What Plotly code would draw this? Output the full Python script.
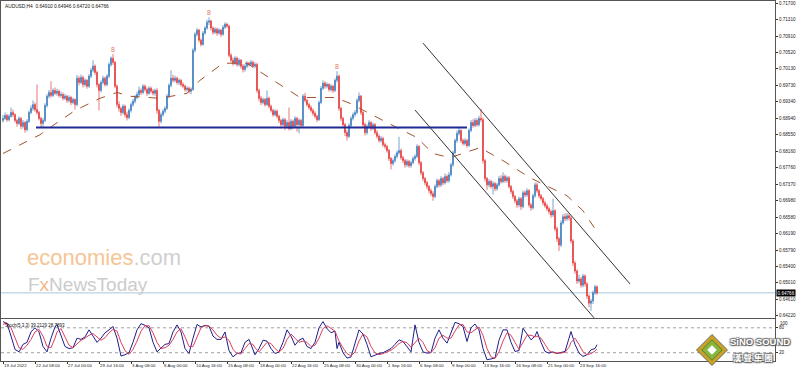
import plotly.graph_objects as go

# ---------------- data ----------------
open_ = [0.6889,0.6894,0.6901,0.6891,0.6899,0.6908,0.6903,0.6889,0.6882,0.6894,
0.6875,0.6884,0.6867,0.6887,0.6908,0.6918,0.6927,0.6915,0.6908,0.6894,
0.6882,0.6889,0.6925,0.6947,0.6956,0.6949,0.6961,0.6954,0.6959,0.6949,
0.6951,0.6942,0.6947,0.6937,0.6944,0.6932,0.6939,0.6927,0.6990,0.6980,
0.6992,0.6975,0.6985,0.6971,0.6995,0.7009,0.7019,0.7004,0.6975,0.6961,
0.6980,0.6990,0.6975,0.6995,0.7023,0.7038,0.7028,0.6971,0.6927,0.6918,
0.6908,0.6923,0.6903,0.6896,0.6913,0.6927,0.6935,0.6944,0.6951,0.6961,
0.6956,0.6971,0.6963,0.6954,0.6966,0.6959,0.6954,0.6961,0.6913,0.6887,
0.6903,0.6911,0.6918,0.6947,0.6973,0.6990,0.6985,0.6990,0.6980,0.6985,
0.6975,0.6971,0.6963,0.6966,0.6959,0.6963,0.7057,0.7095,0.7105,0.7081,
0.7071,0.7098,0.7110,0.7124,0.7127,0.7110,0.7100,0.7107,0.7098,0.7105,
0.7095,0.7112,0.7119,0.7115,0.7045,0.7033,0.7026,0.7038,0.7023,0.7033,
0.7019,0.7011,0.7019,0.7026,0.7023,0.7028,0.7019,0.7023,0.6961,0.6942,
0.6932,0.6939,0.6927,0.6942,0.6923,0.6913,0.6903,0.6911,0.6899,0.6889,
0.6879,0.6891,0.6875,0.6884,0.6870,0.6887,0.6875,0.6894,0.6879,0.6889,
0.6877,0.6947,0.6937,0.6927,0.6920,0.6913,0.6906,0.6899,0.6891,0.6932,
0.6966,0.6978,0.6971,0.6975,0.6963,0.6971,0.6961,0.6985,0.6995,0.6918,
0.6894,0.6879,0.6860,0.6851,0.6877,0.6894,0.6903,0.6908,0.6937,0.6947,
0.6908,0.6879,0.6860,0.6875,0.6884,0.6870,0.6879,0.6860,0.6851,0.6841,
0.6846,0.6831,0.6827,0.6817,0.6798,0.6786,0.6793,0.6803,0.6812,0.6817,
0.6800,0.6793,0.6783,0.6791,0.6781,0.6788,0.6798,0.6803,0.6827,0.6788,
0.6764,0.6750,0.6740,0.6731,0.6721,0.6714,0.6707,0.6731,0.6745,0.6735,
0.6750,0.6740,0.6755,0.6745,0.6759,0.6783,0.6812,0.6841,0.6858,0.6865,
0.6841,0.6834,0.6841,0.6829,0.6865,0.6884,0.6877,0.6889,0.6879,0.6894,
0.6891,0.6793,0.6750,0.6735,0.6743,0.6731,0.6738,0.6726,0.6735,0.6750,
0.6743,0.6755,0.6745,0.6752,0.6731,0.6719,0.6707,0.6697,0.6687,0.6702,
0.6683,0.6716,0.6711,0.6721,0.6687,0.6680,0.6709,0.6735,0.6721,0.6709,
0.6702,0.6692,0.6685,0.6678,0.6671,0.6663,0.6673,0.6630,0.6606,0.6591,
0.6644,0.6659,0.6654,0.6661,0.6656,0.6601,0.6548,0.6529,0.6505,0.6510,
0.6495,0.6517,0.6498,0.6469,0.6452,0.6457,0.6477,0.64910]

close_ = [0.6894,0.6901,0.6891,0.6899,0.6908,0.6903,0.6889,0.6882,0.6894,0.6875,
0.6884,0.6867,0.6887,0.6908,0.6918,0.6927,0.6915,0.6908,0.6894,0.6882,
0.6889,0.6925,0.6947,0.6956,0.6949,0.6961,0.6954,0.6959,0.6949,0.6951,
0.6942,0.6947,0.6937,0.6944,0.6932,0.6939,0.6927,0.6990,0.6980,0.6992,
0.6975,0.6985,0.6971,0.6995,0.7009,0.7019,0.7004,0.6975,0.6961,0.6980,
0.6990,0.6975,0.6995,0.7023,0.7038,0.7028,0.6971,0.6927,0.6918,0.6908,
0.6923,0.6903,0.6896,0.6913,0.6927,0.6935,0.6944,0.6951,0.6961,0.6956,
0.6971,0.6963,0.6954,0.6966,0.6959,0.6954,0.6961,0.6913,0.6887,0.6903,
0.6911,0.6918,0.6947,0.6973,0.6990,0.6985,0.6990,0.6980,0.6985,0.6975,
0.6971,0.6963,0.6966,0.6959,0.6963,0.7057,0.7095,0.7105,0.7081,0.7071,
0.7098,0.7110,0.7124,0.7127,0.7110,0.7100,0.7107,0.7098,0.7105,0.7095,
0.7112,0.7119,0.7115,0.7045,0.7033,0.7026,0.7038,0.7023,0.7033,0.7019,
0.7011,0.7019,0.7026,0.7023,0.7028,0.7019,0.7023,0.6961,0.6942,0.6932,
0.6939,0.6927,0.6942,0.6923,0.6913,0.6903,0.6911,0.6899,0.6889,0.6879,
0.6891,0.6875,0.6884,0.6870,0.6887,0.6875,0.6894,0.6879,0.6889,0.6877,
0.6947,0.6937,0.6927,0.6920,0.6913,0.6906,0.6899,0.6891,0.6932,0.6966,
0.6978,0.6971,0.6975,0.6963,0.6971,0.6961,0.6985,0.6995,0.6918,0.6894,
0.6879,0.6860,0.6851,0.6877,0.6894,0.6903,0.6908,0.6937,0.6947,0.6908,
0.6879,0.6860,0.6875,0.6884,0.6870,0.6879,0.6860,0.6851,0.6841,0.6846,
0.6831,0.6827,0.6817,0.6798,0.6786,0.6793,0.6803,0.6812,0.6817,0.6800,
0.6793,0.6783,0.6791,0.6781,0.6788,0.6798,0.6803,0.6827,0.6788,0.6764,
0.6750,0.6740,0.6731,0.6721,0.6714,0.6707,0.6731,0.6745,0.6735,0.6750,
0.6740,0.6755,0.6745,0.6759,0.6783,0.6812,0.6841,0.6858,0.6865,0.6841,
0.6834,0.6841,0.6829,0.6865,0.6884,0.6877,0.6889,0.6879,0.6894,0.6891,
0.6793,0.6750,0.6735,0.6743,0.6731,0.6738,0.6726,0.6735,0.6750,0.6743,
0.6755,0.6745,0.6752,0.6731,0.6719,0.6707,0.6697,0.6687,0.6702,0.6683,
0.6716,0.6711,0.6721,0.6687,0.6680,0.6709,0.6735,0.6721,0.6709,0.6702,
0.6692,0.6685,0.6678,0.6671,0.6663,0.6673,0.6630,0.6606,0.6591,0.6644,
0.6659,0.6654,0.6661,0.6656,0.6601,0.6548,0.6529,0.6505,0.6510,0.6495,
0.6517,0.6498,0.6469,0.6452,0.6457,0.6477,0.6491,0.64766]

high_ = [0.6902,0.6908,0.6905,0.6904,0.6920,0.6915,0.6906,0.6893,0.6899,0.6897,
0.6890,0.6888,0.6892,0.6913,0.6925,0.6937,0.6932,0.6975,0.6912,0.6898,
0.6895,0.6930,0.6952,0.6962,0.6983,0.6966,0.6968,0.6965,0.6963,0.6958,
0.6956,0.6953,0.6950,0.6949,0.6948,0.6944,0.6942,0.6998,0.6995,0.6999,
0.6996,0.6990,0.6988,0.7000,0.7015,0.7033,0.7023,0.7008,0.6978,0.6985,
0.6996,0.6994,0.7000,0.7028,0.7042,0.7048,0.7032,0.6975,0.6935,0.6922,
0.6928,0.6927,0.6910,0.6918,0.6932,0.6940,0.6950,0.6958,0.6970,0.6966,
0.6976,0.6975,0.6968,0.6971,0.6970,0.6964,0.6965,0.6966,0.6917,0.6908,
0.6916,0.6923,0.6952,0.6978,0.7009,0.6998,0.6996,0.6994,0.6990,0.6988,
0.6980,0.6975,0.6971,0.6970,0.6968,0.7062,0.7100,0.7110,0.7108,0.7085,
0.7103,0.7115,0.7130,0.7136,0.7130,0.7114,0.7112,0.7111,0.7110,0.7108,
0.7117,0.7124,0.7123,0.7118,0.7050,0.7040,0.7043,0.7042,0.7038,0.7036,
0.7024,0.7024,0.7031,0.7030,0.7034,0.7032,0.7028,0.7027,0.6965,0.6948,
0.6944,0.6943,0.6961,0.6946,0.6927,0.6917,0.6916,0.6915,0.6903,0.6893,
0.6896,0.6895,0.6890,0.6920,0.6892,0.6891,0.6899,0.6898,0.6894,0.6893,
0.6952,0.6955,0.6941,0.6932,0.6925,0.6918,0.6911,0.6903,0.6937,0.6971,
0.6985,0.6983,0.6980,0.6978,0.6976,0.6974,0.6990,0.7007,0.6999,0.6922,
0.6898,0.6883,0.6866,0.6882,0.6899,0.6908,0.6914,0.6942,0.6956,0.6950,
0.6912,0.6884,0.6880,0.6890,0.6888,0.6884,0.6883,0.6866,0.6856,0.6852,
0.6850,0.6836,0.6831,0.6821,0.6802,0.6798,0.6808,0.6817,0.6850,0.6822,
0.6805,0.6797,0.6796,0.6795,0.6793,0.6803,0.6808,0.6832,0.6830,0.6792,
0.6768,0.6754,0.6745,0.6735,0.6726,0.6720,0.6736,0.6750,0.6749,0.6756,
0.6754,0.6762,0.6760,0.6766,0.6788,0.6817,0.6846,0.6865,0.6874,0.6868,
0.6846,0.6847,0.6845,0.6870,0.6890,0.6892,0.6895,0.6894,0.6900,0.6917,
0.6896,0.6797,0.6754,0.6749,0.6747,0.6744,0.6742,0.6740,0.6756,0.6758,
0.6765,0.6760,0.6757,0.6756,0.6735,0.6723,0.6711,0.6701,0.6707,0.6706,
0.6721,0.6722,0.6727,0.6725,0.6692,0.6714,0.6741,0.6740,0.6725,0.6713,
0.6706,0.6697,0.6690,0.6683,0.6676,0.6702,0.6677,0.6635,0.6611,0.6650,
0.6665,0.6667,0.6668,0.6666,0.6660,0.6605,0.6553,0.6533,0.6520,0.6515,
0.6522,0.6521,0.6502,0.6473,0.6462,0.6482,0.6496,0.64946]

low_ = [0.6884,0.6890,0.6886,0.6887,0.6896,0.6897,0.6884,0.6874,0.6878,0.6868,
0.6870,0.6860,0.6863,0.6883,0.6904,0.6912,0.6910,0.6903,0.6889,0.6872,
0.6874,0.6885,0.6920,0.6942,0.6944,0.6945,0.6950,0.6948,0.6944,0.6943,
0.6937,0.6938,0.6931,0.6932,0.6926,0.6928,0.6915,0.6923,0.6973,0.6976,
0.6968,0.6970,0.6965,0.6967,0.6990,0.7004,0.6998,0.6968,0.6913,0.6956,
0.6975,0.6970,0.6971,0.6990,0.7018,0.7022,0.6966,0.6920,0.6910,0.6900,
0.6903,0.6896,0.6889,0.6892,0.6908,0.6922,0.6930,0.6940,0.6946,0.6950,
0.6952,0.6958,0.6948,0.6950,0.6954,0.6949,0.6948,0.6905,0.6872,0.6882,
0.6898,0.6906,0.6914,0.6942,0.6968,0.6980,0.6980,0.6975,0.6974,0.6970,
0.6966,0.6958,0.6958,0.6954,0.6952,0.6960,0.7052,0.7090,0.7076,0.7066,
0.7068,0.7094,0.7106,0.7117,0.7104,0.7094,0.7096,0.7092,0.7094,0.7089,
0.7092,0.7108,0.7110,0.7040,0.7028,0.7020,0.7022,0.7018,0.7018,0.7013,
0.7004,0.7006,0.7014,0.7018,0.7019,0.7014,0.7014,0.6955,0.6935,0.6926,
0.6928,0.6922,0.6924,0.6918,0.6908,0.6898,0.6899,0.6894,0.6883,0.6870,
0.6875,0.6866,0.6870,0.6865,0.6866,0.6868,0.6871,0.6862,0.6858,0.6872,
0.6873,0.6932,0.6922,0.6915,0.6908,0.6900,0.6894,0.6885,0.6888,0.6928,
0.6962,0.6965,0.6966,0.6958,0.6958,0.6955,0.6957,0.6980,0.6912,0.6888,
0.6872,0.6852,0.6841,0.6847,0.6872,0.6889,0.6898,0.6904,0.6932,0.6902,
0.6873,0.6853,0.6855,0.6870,0.6864,0.6866,0.6855,0.6846,0.6836,0.6836,
0.6826,0.6821,0.6812,0.6792,0.6772,0.6781,0.6788,0.6798,0.6807,0.6795,
0.6787,0.6776,0.6778,0.6776,0.6776,0.6784,0.6793,0.6799,0.6782,0.6758,
0.6744,0.6734,0.6725,0.6715,0.6708,0.6697,0.6703,0.6727,0.6729,0.6730,
0.6734,0.6736,0.6740,0.6740,0.6755,0.6778,0.6808,0.6836,0.6853,0.6835,
0.6829,0.6829,0.6824,0.6826,0.6861,0.6872,0.6873,0.6874,0.6875,0.6885,
0.6786,0.6743,0.6723,0.6729,0.6726,0.6712,0.6720,0.6721,0.6731,0.6738,
0.6739,0.6740,0.6740,0.6726,0.6713,0.6701,0.6691,0.6680,0.6682,0.6675,
0.6679,0.6705,0.6706,0.6681,0.6673,0.6676,0.6704,0.6716,0.6703,0.6697,
0.6686,0.6680,0.6672,0.6665,0.6656,0.6658,0.6624,0.6598,0.6577,0.6586,
0.6640,0.6648,0.6649,0.6650,0.6595,0.6541,0.6522,0.6498,0.6500,0.6489,
0.6490,0.6492,0.6462,0.6442,0.6434,0.6450,0.6472,0.64720]

assert len(open_) == len(close_) == len(high_) == len(low_)
bar_idx = list(range(len(close_)))

# x-axis ticks (bar index -> label)
tick_idx = [0,16,32,48,64,80,96,112,128,144,160,176,192,208,224,240,256,272,288]
tick_text = ["19 Jul 2022","22 Jul 08:00","27 Jul 00:00","29 Jul 16:00","3 Aug 08:00",
             "8 Aug 00:00","10 Aug 16:00","15 Aug 08:00","18 Aug 00:00","22 Aug 16:00",
             "25 Aug 08:00","30 Aug 00:00","1 Sep 16:00","6 Sep 08:00","9 Sep 00:00",
             "13 Sep 16:00","16 Sep 08:00","21 Sep 00:00","23 Sep 16:00"]

price_ticks = [0.71700,0.71310,0.70910,0.70520,0.70130,0.69730,0.69340,0.68940,0.68550,
               0.68160,0.67760,0.67370,0.66980,0.66580,0.66190,0.65790,0.65400,0.65010,
               0.64610,0.64220]
last_price = 0.64766

# moving average (dashed)
ma_idx = [0,18.5,23.5,36,48.5,57,63.5,78.5,92,98.5,110,122,133.5,148.5,166,173.5,190,
          207,215,223.5,238.5,250,263.5,282,290,296]
ma_val = [0.6810,0.6855,0.6872,0.6913,0.6942,0.6956,0.6947,0.6942,0.6954,0.6985,0.7026,
          0.7026,0.6990,0.6944,0.6944,0.6930,0.6889,0.6848,0.6810,0.6800,0.6824,0.6793,
          0.6752,0.6709,0.6673,0.6630]

# drawn objects
support_idx = [16.5, 232]
support_price = 0.6872
chan_up_idx = [210, 313.5]
chan_up_val = [0.7074, 0.6498]
chan_lo_idx = [206, 295.5]
chan_lo_val = [0.6914, 0.6417]
fractal_idx = [55, 103, 167]

# stochastic (5,3,3)
stoch_idx = [0,2,4,6,8,10,12,14,16,18,20,22,24,26,27,29,31,33,35,37,39,41,43,45,47,49,51,53,
             55,57,59,61,63,65,67,69,71,73,75,77,79,81,83,85,87,89,91,93,95,97,99,101,103,105,
             107,109,111,113,115,117,119,121,123,125,126,128,130,132,134,136,138,140,142,144,
             146,148,150,152,154,156,158,160,162,164,166,167,168,170,172,174,176,178,180,182,
             184,186,188,190,192,194,196,198,200,202,204,206,208,210,212,214,216,218,220,222,
             224,226,228,230,232,234,236,238,240,242,244,246,248,250,252,254,256,258,260,262,
             264,266,267,269,271,273,275,277,279,281,283,284,286,288,290,292,294,296,297]
stoch_k = [95,90,60,28,22,40,45,70,80,70,35,22,55,82,88,60,35,30,32,55,52,58,75,60,45,55,68,75,
           83,55,12,15,20,45,75,90,86,80,45,22,30,40,42,70,87,70,30,18,55,88,82,86,84,60,
           52,52,70,25,10,18,20,45,52,25,15,30,50,48,30,18,22,45,75,60,38,50,55,35,30,45,
           80,95,78,68,72,30,45,20,7,10,45,75,65,40,10,15,18,20,25,30,40,51,47,35,22,87,
           45,22,19,20,55,75,55,43,70,93,90,83,47,80,89,75,30,3,5,7,50,75,75,45,23,25,
           79,65,51,60,71,45,23,19,22,18,20,23,55,71,40,19,11,15,27,30,39.2129]
stoch_d = [88,92,80,55,32,28,38,52,70,76,60,35,32,55,70,78,58,38,32,40,50,55,62,66,58,50,56,68,
           76,72,45,25,16,28,48,72,85,85,68,45,30,32,38,52,70,78,58,35,35,60,80,85,84,75,
           62,55,58,50,28,18,17,30,42,40,32,22,34,45,42,30,22,30,52,65,55,45,48,45,35,38,
           55,78,85,78,72,60,48,32,18,12,22,48,65,58,35,20,15,18,22,26,33,42,47,44,33,45,
           55,45,25,20,32,55,62,55,55,72,87,88,70,68,75,82,62,30,10,6,22,48,68,62,45,28,
           45,62,62,58,60,55,40,25,20,20,19,21,33,45,55,40,22,15,18,24,28.7893]
assert len(stoch_idx) == len(stoch_k) == len(stoch_d)

# ---------------- figure ----------------
UP = "#3c7dbd"
DN = "#e53a3a"
FONT = "Liberation Sans"

fig = go.Figure()
fig.add_trace(go.Candlestick(
    x=bar_idx, open=open_, high=high_, low=low_, close=close_,
    increasing=dict(line=dict(color=UP, width=0.7), fillcolor=UP),
    decreasing=dict(line=dict(color=DN, width=0.7), fillcolor=DN),
    whiskerwidth=0, showlegend=False, hoverinfo="skip", xaxis="x", yaxis="y"))
fig.add_trace(go.Scatter(x=ma_idx, y=ma_val, mode="lines", showlegend=False,
                         line=dict(color="#a0522d", width=1, dash="dash"), hoverinfo="skip"))
fig.add_trace(go.Scatter(x=support_idx, y=[support_price, support_price], mode="lines",
                         showlegend=False, line=dict(color="#1f2a96", width=2), hoverinfo="skip"))
fig.add_trace(go.Scatter(x=chan_up_idx, y=chan_up_val, mode="lines", showlegend=False,
                         line=dict(color="#333333", width=1), hoverinfo="skip", cliponaxis=True))
fig.add_trace(go.Scatter(x=chan_lo_idx, y=chan_lo_val, mode="lines", showlegend=False,
                         line=dict(color="#333333", width=1), hoverinfo="skip", cliponaxis=True))
fig.add_trace(go.Scatter(x=fractal_idx, y=[high_[i] for i in fractal_idx], mode="text",
                         text=["8"] * len(fractal_idx), textposition="top center",
                         textfont=dict(color="#e8735a", size=7, family=FONT),
                         showlegend=False, hoverinfo="skip"))
fig.add_trace(go.Scatter(x=stoch_idx, y=stoch_k, mode="lines", xaxis="x2", yaxis="y2",
                         line=dict(color="#1e1e88", width=1), showlegend=False, hoverinfo="skip"))
fig.add_trace(go.Scatter(x=stoch_idx, y=stoch_d, mode="lines", xaxis="x2", yaxis="y2",
                         line=dict(color="#d9405e", width=1), showlegend=False, hoverinfo="skip"))

XR = [-1, 386]
axis_common = dict(showgrid=False, zeroline=False, showline=True, mirror=True,
                   linecolor="#555555", linewidth=1, automargin=False)

fig.update_layout(
    width=798, height=372,
    margin=dict(l=1, r=23, t=1, b=11),
    paper_bgcolor="white", plot_bgcolor="white",
    font=dict(family=FONT, color="#222"),
    xaxis=dict(domain=[0, 1], range=XR, anchor="y", showticklabels=False, ticks="",
               rangeslider=dict(visible=False), **axis_common),
    yaxis=dict(domain=[0.1194, 1], range=[0.64165, 0.71748], side="right",
               tickvals=price_ticks, ticktext=[f"{v:.5f}" for v in price_ticks],
               ticks="outside", ticklen=2, tickcolor="#333",
               tickfont=dict(size=4.6, color="#222", family=FONT), **axis_common),
    xaxis2=dict(domain=[0, 1], range=XR, anchor="y2", matches="x",
                tickvals=tick_idx, ticktext=tick_text, ticks="outside", ticklen=2,
                tickcolor="#333", ticklabelposition="outside right", tickangle=0,
                tickfont=dict(size=4.4, color="#222", family=FONT), **axis_common),
    yaxis2=dict(domain=[0, 0.1153], range=[0, 100], side="right",
                tickvals=[80, 20], ticktext=["80", "20"], ticks="outside", ticklen=2,
                tickcolor="#333", tickfont=dict(size=4.6, color="#222", family=FONT),
                **axis_common),
)

shapes = [
    dict(type="line", xref="paper", x0=0, x1=1, yref="y", y0=last_price, y1=last_price,
         line=dict(color="#a9c6dc", width=1), layer="below"),
    dict(type="line", xref="paper", x0=0, x1=1, yref="y2", y0=80, y1=80,
         line=dict(color="#a0a0a0", width=1, dash="dot"), layer="below"),
    dict(type="line", xref="paper", x0=0, x1=1, yref="y2", y0=20, y1=20,
         line=dict(color="#a0a0a0", width=1, dash="dot"), layer="below"),
]

# Sino Sound diamond logo (decorative)
cx, cy = 0.9186, 0.0306
for dx, dy, fill, lc in [(0.0200, 0.0430, "#c9a227", "#6b6b6b"),
                         (0.0132, 0.0285, "#86b43c", "#5d7d2a"),
                         (0.0055, 0.0120, "#ffffff", "#ffffff")]:
    shapes.append(dict(type="path", xref="paper", yref="paper",
                       path=f"M {cx},{cy+dy} L {cx+dx},{cy} L {cx},{cy-dy} L {cx-dx},{cy} Z",
                       fillcolor=fill, line=dict(color=lc, width=1), layer="above"))
fig.update_layout(shapes=shapes)

SHADOW = "1px 1px 1px #555, -1px -1px 1px #777, 1px -1px 1px #777, -1px 1px 1px #777"
annotations = [
    dict(xref="paper", yref="paper", x=0.003, y=0.996, xanchor="left", yanchor="top",
         text="AUDUSD,H4  0.64910 0.64946 0.64720 0.64766", showarrow=False,
         font=dict(size=4.8, color="#111", family=FONT)),
    dict(xref="paper", yref="paper", x=0.003, y=0.1125, xanchor="left", yanchor="top",
         text="Stoch(5,3,3) 39.2129 28.7893", showarrow=False,
         font=dict(size=4.5, color="#111", family=FONT)),
    dict(xref="paper", yref="y2", x=1, y=100, xanchor="left", yanchor="top", xshift=3,
         text="100", showarrow=False, font=dict(size=4.6, color="#222", family=FONT)),
    dict(xref="paper", yref="y", x=1, y=last_price, xanchor="left", yanchor="middle",
         xshift=1, text="0.64766", showarrow=False, bgcolor="#000000", borderpad=0.6,
         font=dict(size=4.6, color="#ffffff", family=FONT)),
    dict(xref="paper", yref="paper", x=0.031, y=0.287, xanchor="left", yanchor="middle",
         text='<span style="color:#f5c595">economies</span><span style="color:#cfcfcf">.com</span>',
         showarrow=False, font=dict(size=22, family="Liberation Sans")),
    dict(xref="paper", yref="paper", x=0.032, y=0.212, xanchor="left", yanchor="middle",
         text='<span style="color:#cccccc">F</span><span style="color:#f2b98a">x</span>'
              '<span style="color:#cccccc">NewsToday</span>',
         showarrow=False, font=dict(size=19, family="Liberation Sans")),
    dict(xref="paper", yref="paper", x=0.980, y=0.053, xanchor="center", yanchor="middle",
         text="<b>SiNO SOUND</b>", showarrow=False,
         font=dict(size=9.5, color="#ffffff", family="Liberation Sans", shadow=SHADOW)),
    dict(xref="paper", yref="paper", x=0.972, y=0.011, xanchor="center", yanchor="middle",
         text="<b>漢 聲 集 團</b>", showarrow=False,
         font=dict(size=8.5, color="#ffffff", family="Noto Sans CJK TC", shadow=SHADOW)),
]
fig.update_layout(annotations=annotations)

fig.write_html("out.html")
